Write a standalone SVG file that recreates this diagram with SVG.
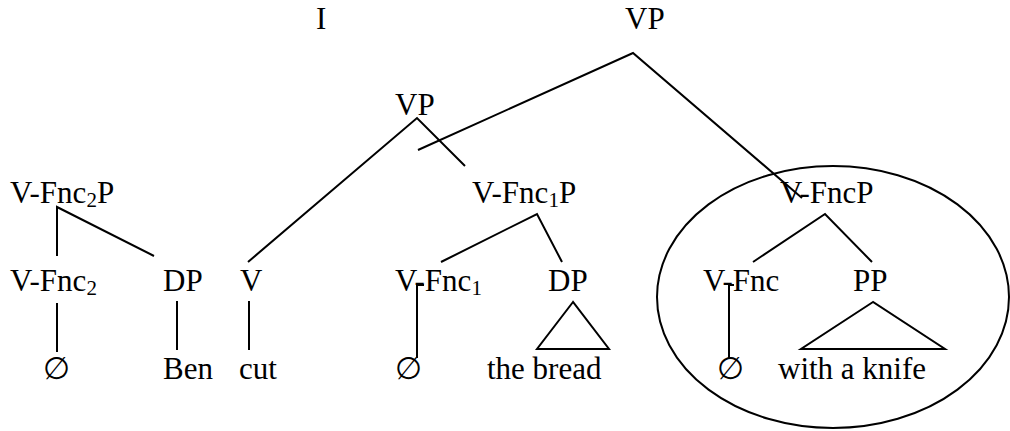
<svg xmlns="http://www.w3.org/2000/svg" width="1010" height="431" viewBox="0 0 1010 431">
<style>
.t{font-family:'Liberation Serif','Times New Roman',Times,serif;font-size:31px;fill:#000}
.sub{font-size:21px}
.ln{stroke:#000;stroke-width:2;fill:none}
</style>
<rect width="1010" height="431" fill="#fff"/>
<g id="connectors" class="ln">
<polyline points="418,150 633,53 802,198"/>
<polyline points="248,262 417,118 465,166"/>
<polyline points="57,256 57,207 154,256"/>
<polyline points="441,262 537,214 562,262"/>
<polyline points="753,262 825,214 872,262"/>
<line x1="57" y1="303" x2="57" y2="352"/>
<line x1="177" y1="301" x2="177" y2="350"/>
<line x1="249" y1="301" x2="249" y2="350"/>
<polyline points="424,285 417,285 417,358"/>
<polyline points="734,285 729,285 729,358"/>
<polygon points="573,302 537,349 609,349"/>
<polygon points="873,302 801,349 945,349"/>
</g>
<g id="circle" class="ln"><ellipse cx="833" cy="297" rx="176" ry="131"/></g>
<g class="t" font-family="Liberation Serif, serif">
<g id="n-I"><text x="316" y="29">I</text></g>
<g id="n-VP-top"><text x="625" y="29">VP</text></g>
<g id="n-VP-mid"><text x="395" y="115">VP</text></g>
<g id="n-VFnc2P"><text x="10" y="203">V-Fnc<tspan class="sub" dy="4">2</tspan><tspan dy="-4">P</tspan></text></g>
<g id="n-VFnc1P"><text x="472" y="203">V-Fnc<tspan class="sub" dy="4">1</tspan><tspan dy="-4">P</tspan></text></g>
<g id="n-VFncP"><text x="780" y="203">V-FncP</text></g>
<g id="n-VFnc2"><text x="10" y="291">V-Fnc<tspan class="sub" dy="4">2</tspan></text></g>
<g id="n-DP1"><text x="163" y="291">DP</text></g>
<g id="n-V"><text x="240" y="291">V</text></g>
<g id="n-VFnc1"><text x="395" y="291">V-Fnc<tspan class="sub" dy="4">1</tspan></text></g>
<g id="n-DP2"><text x="548" y="291">DP</text></g>
<g id="n-VFnc"><text x="703" y="291">V-Fnc</text></g>
<g id="n-PP"><text x="853" y="291">PP</text></g>
<g id="n-empty1"><text x="43" y="379">∅</text></g>
<g id="n-Ben"><text x="163" y="379">Ben</text></g>
<g id="n-cut"><text x="239" y="379">cut</text></g>
<g id="n-empty2"><text x="395" y="379">∅</text></g>
<g id="n-bread"><text x="487" y="379">the bread</text></g>
<g id="n-empty3"><text x="717" y="379">∅</text></g>
<g id="n-knife"><text x="778" y="379">with a knife</text></g>
</g>
</svg>
